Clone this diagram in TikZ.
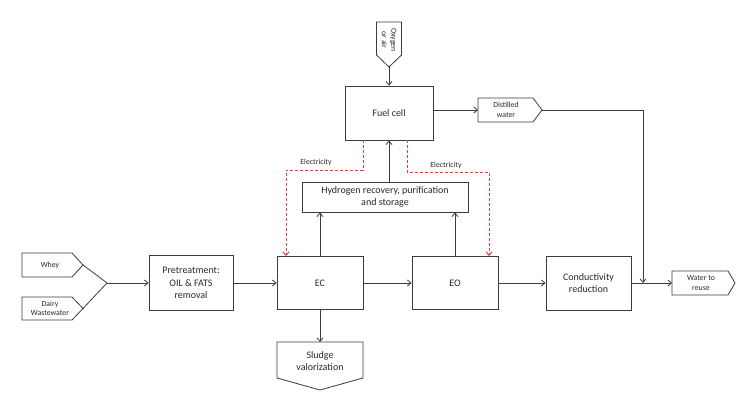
\documentclass[tikz,border=0pt]{standalone}
\usepackage{fontspec}
\setmainfont{Carlito}
\usetikzlibrary{arrows.meta}
\definecolor{lc}{HTML}{3C3C3C}
\definecolor{tc}{HTML}{2A2A2A}
\definecolor{ered}{HTML}{E04040}
\begin{document}
\begin{tikzpicture}[x=1pt,y=-1pt,
  box/.style={draw=lc, line width=0.9pt, fill=white, align=center, text=tc,
    inner sep=2pt, font=\fontsize{10}{12.5}\selectfont},
  shp/.style={draw=lc, line width=0.8pt, fill=white},
  lbl/.style={align=center, text=tc, font=\fontsize{7.8}{9.5}\selectfont, inner sep=0pt},
  arr/.style={draw=lc, line width=0.8pt, -{Straight Barb[length=3.5pt,width=6pt]}},
  ln/.style={draw=lc, line width=0.8pt},
  elec/.style={draw=ered, line width=1pt, dash pattern=on 3pt off 2pt,
    -{Straight Barb[length=3.5pt,width=6pt]}}]
\useasboundingbox (0,0) rectangle (755,403);

% main boxes
\node[box, minimum width=84pt, minimum height=55pt] (pre) at (191,283) {Pretreatment:\\OIL \& FATS\\removal};
\node[box, minimum width=86pt, minimum height=53pt] (ec) at (320,283) {EC};
\node[box, minimum width=86pt, minimum height=53pt] (eo) at (455,283) {EO};
\node[box, minimum width=85pt, minimum height=54pt] (cond) at (588.5,283) {Conductivity\\reduction};
\node[box, minimum width=88pt, minimum height=54pt] (fuel) at (389,113) {Fuel cell};
\node[box, minimum width=166pt, minimum height=30pt] (hyd) at (385,197) {Hydrogen recovery, purification\\and storage};

% input pentagons
\draw[shp] (22,253) -- (72,253) -- (83,265) -- (72,277) -- (22,277) -- cycle;
\coordinate (wtip) at (83,265);
\node[lbl] (whey) at (50,265) {Whey};
\draw[shp] (22,297) -- (72,297) -- (83,308.5) -- (72,320) -- (22,320) -- cycle;
\coordinate (dtip) at (83,308.5);
\node[lbl] (dairy) at (50,308.5) {Dairy\\Wastewater};
\coordinate (merge) at (107,283);
\draw[ln] (wtip) -- (merge);
\draw[ln] (dtip) -- (merge);
\draw[arr] (merge) -- (pre.west);

% oxygen
\draw[shp] (376.5,22) -- (401.5,22) -- (401.5,55) -- (389,67) -- (376.5,55) -- cycle;
\coordinate (otip) at (389,67);
\node[lbl, rotate=-90] (oxy) at (389,40) {Oxygen\\or air};
\draw[arr] (otip) -- (fuel.north);

% distilled water
\draw[shp] (478,98) -- (533,98) -- (542,110) -- (533,122) -- (478,122) -- cycle;
\coordinate (dwin) at (478,110);
\coordinate (dwtip) at (542,110);
\node[lbl] (dw) at (506,110) {Distilled\\water};
\draw[arr] (fuel.east |- dwin) -- (dwin);
\coordinate (junc) at (643,283);
\draw[arr] (dwtip) -| (junc);

% water to reuse
\draw[shp] (672,271) -- (728,271) -- (735,283) -- (728,295) -- (672,295) -- cycle;
\coordinate (wrin) at (672,283);
\node[lbl] (wr) at (701,283) {Water to\\reuse};

% sludge
\draw[shp] (277,342) -- (363,342) -- (363,378) -- (320,390) -- (277,378) -- cycle;
\coordinate (sin) at (320,342);
\node[align=center, text=tc, font=\fontsize{10}{12.5}\selectfont, inner sep=0pt] (sl) at (320,361) {Sludge\\valorization};

% main flow
\draw[arr] (pre.east) -- (ec.west);
\draw[arr] (ec.east) -- (eo.west);
\draw[arr] (eo.east) -- (cond.west);
\draw[arr] (cond.east) -- (wrin);
\draw[arr] (ec.south) -- (sin);
\draw[arr] (ec.north) -- (ec.north |- hyd.south);
\draw[arr] (eo.north) -- (eo.north |- hyd.south);
\draw[arr] (hyd.north -| fuel.south) -- (fuel.south);

% electricity
\draw[elec] ([xshift=-26pt]fuel.south) -- ++(0,30) -| ([xshift=-34pt]ec.north);
\draw[elec] ([xshift=18pt]fuel.south) -- ++(0,32) -| ([xshift=34pt]eo.north);
\node[lbl] (el1) at (316,162) {Electricity};
\node[lbl] (el2) at (446,165) {Electricity};
\end{tikzpicture}
\end{document}
